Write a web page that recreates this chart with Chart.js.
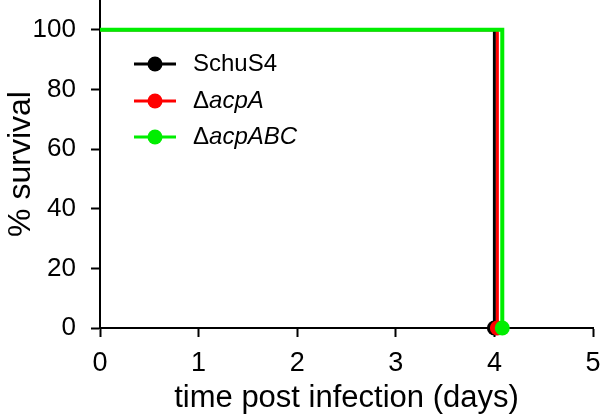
<!DOCTYPE html>
<html>
<head>
<meta charset="utf-8">
<script src="https://cdn.jsdelivr.net/npm/chart.js@4"></script>
<style>
  html, body { margin: 0; padding: 0; background: #fff; }
  #wrap { width: 600px; height: 417px; position: relative; }
</style>
</head>
<body>
<div id="wrap"><canvas id="survivalChart"></canvas></div>
<script>
// survival curves: [day, % survival]
const strains = ['SchuS4', 'acpA', 'acpABC'];
const colors = ['#000000', '#ff0000', '#00ee00'];
const schuS4 = [[0, 100], [4.0, 100], [4.0, 0]];
const acpA = [[0, 100], [4.03, 100], [4.03, 0]];
const acpABC = [[0, 100], [4.08, 100], [4.08, 0]];
const yTicks = [0, 20, 40, 60, 80, 100];
const xTicks = [0, 1, 2, 3, 4, 5];

const series = [schuS4, acpA, acpABC];
const lineWidths = [3, 3, 4];
const FONT = '"Liberation Sans", Arial, sans-serif';

const legendPlugin = {
  id: 'survLegend',
  afterDraw(chart) {
    const ctx = chart.ctx;
    const rows = [64, 101, 137];
    ctx.save();
    strains.forEach((name, i) => {
      const y = rows[i];
      ctx.strokeStyle = colors[i];
      ctx.lineWidth = 3;
      ctx.beginPath();
      ctx.moveTo(134, y);
      ctx.lineTo(176, y);
      ctx.stroke();
      ctx.fillStyle = colors[i];
      ctx.beginPath();
      ctx.arc(155, y, 7.5, 0, Math.PI * 2);
      ctx.fill();
      ctx.fillStyle = '#000';
      ctx.textBaseline = 'middle';
      ctx.textAlign = 'left';
      ctx.font = '24px ' + FONT;
      if (i === 0) {
        ctx.fillText(name, 193, y);
      } else {
        ctx.fillText('\u0394', 193, y);
        const w = ctx.measureText('\u0394').width;
        ctx.font = 'italic 24px ' + FONT;
        ctx.fillText(name, 193 + w, y);
      }
    });
    ctx.restore();
  }
};

new Chart(document.getElementById('survivalChart'), {
  type: 'line',
  data: {
    datasets: series.map((s, i) => ({
      label: strains[i],
      data: s.map(p => ({ x: p[0], y: p[1] })),
      borderColor: colors[i],
      backgroundColor: colors[i],
      borderWidth: lineWidths[i],
      pointRadius: [0, 0, 7.5],
      pointHoverRadius: 0,
      pointBorderWidth: 0,
      order: 2 - i,
      clip: false
    }))
  },
  options: {
    responsive: true,
    maintainAspectRatio: false,
    animation: false,
    events: [],
    layout: { autoPadding: false, padding: { top: 0, right: 7, left: 0, bottom: 0 } },
    plugins: {
      legend: { display: false },
      tooltip: { enabled: false }
    },
    scales: {
      x: {
        type: 'linear',
        min: 0,
        max: 5,
        afterBuildTicks: s => { s.ticks = xTicks.map(v => ({ value: v })); },
        afterFit: s => { s.height = 89; s.paddingLeft = 0; s.paddingRight = 0; },
        grid: { drawOnChartArea: false, color: '#000', tickLength: 9, tickWidth: 2 },
        border: { color: '#000', width: 2 },
        ticks: { color: '#000', font: { family: FONT, size: 27 }, padding: 10, maxRotation: 0 },
        title: {
          display: true,
          text: 'time post infection (days)',
          color: '#000',
          font: { family: FONT, size: 31 },
          padding: { top: 0, bottom: 0 }
        }
      },
      y: {
        min: 0,
        max: 110,
        afterBuildTicks: s => { s.ticks = yTicks.map(v => ({ value: v })); },
        afterFit: s => { s.width = 100; s.paddingTop = 0; s.paddingBottom = 0; },
        grid: { drawOnChartArea: false, color: '#000', tickLength: 9, tickWidth: 2 },
        border: { color: '#000', width: 2 },
        ticks: { color: '#000', font: { family: FONT, size: 26 }, padding: 15 },
        title: {
          display: true,
          text: '% survival',
          color: '#000',
          font: { family: FONT, size: 32 },
          padding: { top: 2, bottom: 0 }
        }
      }
    }
  },
  plugins: [legendPlugin]
});
</script>
</body>
</html>
